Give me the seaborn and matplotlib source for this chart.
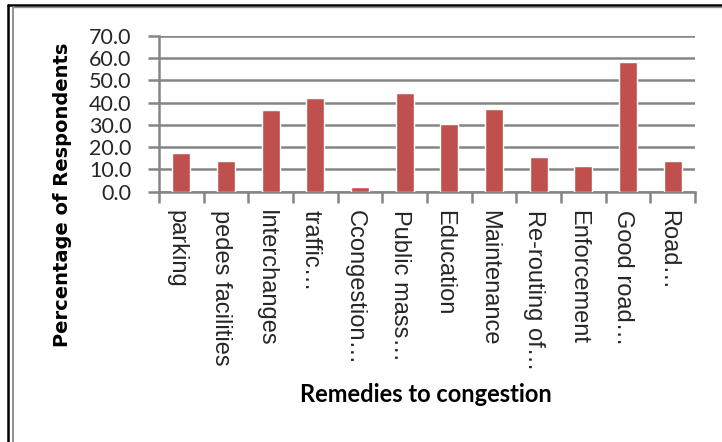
import numpy as np
import matplotlib
matplotlib.use("Agg")
import matplotlib.pyplot as plt
import matplotlib.transforms as mtransforms
from matplotlib.lines import Line2D
import seaborn as sns
import pandas as pd

remedies = ["parking", "pedes facilities", "Interchanges", "traffic…",
            "Ccongestion…", "Public mass…", "Education", "Maintenance",
            "Re-routing of…", "Enforcement", "Good road…", "Road…"]
percent = [17.2, 13.6, 36.6, 41.9, 2.0, 44.4, 30.5, 37.2, 15.7, 11.5, 58.2, 13.6]
y_ticks = [0, 10, 20, 30, 40, 50, 60, 70]

sns.set_theme(style="white")
plt.rcParams['font.family'] = ['Liberation Sans', 'DejaVu Sans']

W, H = 722, 442
fig = plt.figure(figsize=(W / 100, H / 100), dpi=100)
ax = fig.add_axes([159 / W, 1 - 191.7 / H, (695 - 159) / W, (191.7 - 35.7) / H])

df = pd.DataFrame({"remedy": remedies, "pct": percent})
sns.barplot(data=df, x="remedy", y="pct", color="#C0504D", width=0.4,
            saturation=1, ax=ax, zorder=3)

grey = "#858585"
ax.set_xlim(-0.5, len(remedies) - 0.5)
ax.set_ylim(0, 70)
ax.set_yticks(y_ticks)
ax.set_yticklabels([f"{v:.1f}" for v in y_ticks], family="Lato", fontsize=15.5)
ax.yaxis.grid(True, color=grey, linewidth=1.8, zorder=0)
ax.xaxis.grid(False)
ax.set_axisbelow(True)

for s in ["top", "right"]:
    ax.spines[s].set_visible(False)
for s in ["left", "bottom"]:
    ax.spines[s].set_color(grey)
    ax.spines[s].set_linewidth(1.8)

ax.tick_params(axis="y", which="major", length=8, width=1.8, color=grey,
               direction="out", left=True, pad=12)
ax.set_xticks(np.arange(len(remedies)))
ax.set_xticklabels(remedies, rotation=270, fontsize=17)
ax.tick_params(axis="x", which="major", length=0, pad=13)
ax.set_xticks(np.arange(-0.5, len(remedies)), minor=True)
ax.tick_params(axis="x", which="minor", length=8, width=1.8, color=grey,
               direction="out", bottom=True)
shift = mtransforms.ScaledTranslation(-5 / 100, 0, fig.dpi_scale_trans)
for lab in ax.get_xticklabels():
    lab.set_transform(lab.get_transform() + shift)

ax.set_xlabel("")
ax.set_ylabel("")
fig.text(63 / W, 1 - 195 / H, "Percentage of Respondents", rotation=90,
         ha="center", va="center", fontsize=14, fontweight="bold",
         family="DejaVu Sans", color="black")
fig.text(426 / W, 1 - 395 / H, "Remedies to congestion", ha="center",
         va="center", fontsize=17, fontweight="bold", family="Lato",
         color="black")

# outer frame
fig.add_artist(Line2D([8 / W, 8 / W], [0, 1 - 5 / H], color="black",
                      linewidth=1.8, transform=fig.transFigure))
fig.add_artist(Line2D([8 / W, 1], [1 - 5 / H, 1 - 5 / H], color="black",
                      linewidth=1.8, transform=fig.transFigure))
fig.add_artist(Line2D([12.5 / W, 12.5 / W], [0, 1 - 6.5 / H], color="#909090",
                      linewidth=1.4, transform=fig.transFigure))
fig.add_artist(Line2D([12.5 / W, 1], [1 - 6.5 / H, 1 - 6.5 / H], color="#909090",
                      linewidth=1.0, transform=fig.transFigure))

fig.savefig("out.png", dpi=100)
